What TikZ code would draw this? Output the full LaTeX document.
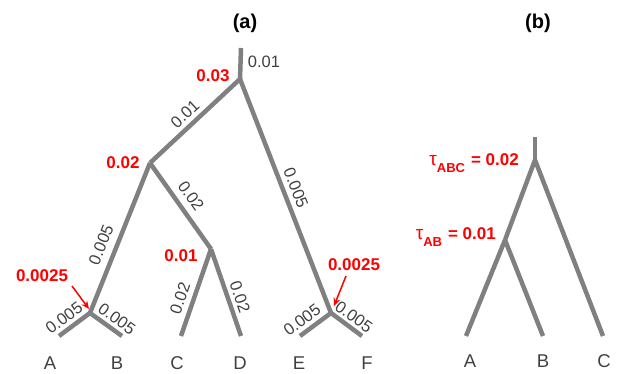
\documentclass[tikz,border=0pt]{standalone}
\usepackage{fontspec}
\setmainfont{Liberation Sans}
\usetikzlibrary{arrows.meta}
\definecolor{branch}{RGB}{128,128,128}
\definecolor{lblgray}{RGB}{64,64,64}
\definecolor{hot}{RGB}{255,0,0}
\newcommand{\mysub}[1]{\raisebox{-6.5pt}{\fontsize{13}{14}\selectfont\bfseries #1}}
\tikzset{
  br/.style={draw=branch, line width=4.5pt, line join=round},
  glbl/.style={inner sep=0pt, text=lblgray, font=\fontsize{16.5}{18}\selectfont},
  rlbl/.style={inner sep=0pt, text=hot, font=\fontsize{17}{19}\selectfont\bfseries},
  leaf/.style={inner sep=0pt, text=lblgray, font=\fontsize{18.5}{20}\selectfont},
  ttl/.style={inner sep=0pt, text=black, font=\fontsize{20}{22}\selectfont\bfseries},
  redarrow/.style={draw=hot, line width=1.5pt, -{Stealth[length=8pt,width=7pt]}}
}
\begin{document}
\begin{tikzpicture}[x=1pt,y=-1pt]
\useasboundingbox (0,0) rectangle (622,374);
% ---- panel (a) ----
\node[ttl] (ta) at (245,23) {(a)};
\coordinate (top) at (241,48);
\coordinate (R) at (240,79);
\coordinate (N2) at (150,163);
\coordinate (CD) at (211,249);
\coordinate (AB) at (90,313);
\coordinate (EF) at (331,313);
\coordinate (A) at (59,336);
\coordinate (B) at (122,336);
\coordinate (C) at (181,336);
\coordinate (D) at (241,336);
\coordinate (E) at (300,336);
\coordinate (F) at (362,336);
\draw[br] (top) -- (R);
\draw[br] (R) -- (N2);
\draw[br] (R) -- (EF);
\draw[br] (N2) -- (AB);
\draw[br] (N2) -- (CD);
\draw[br] (CD) -- (C);
\draw[br] (CD) -- (D);
\draw[br] (AB) -- (A);
\draw[br] (AB) -- (B);
\draw[br] (EF) -- (E);
\draw[br] (EF) -- (F);
% leaf names
\node[leaf] (lA) at (50,363) {A};
\node[leaf] (lB) at (117,363) {B};
\node[leaf] (lC) at (177,363) {C};
\node[leaf] (lD) at (240,363) {D};
\node[leaf] (lE) at (299,363) {E};
\node[leaf] (lF) at (367,363) {F};
% branch lengths
\node[glbl] (g1) at (264,62) {0.01};
\node[glbl, rotate=43] (g2) at (185,114) {0.01};
\node[glbl, rotate=-68.7] (g3) at (296,188) {0.005};
\node[glbl, rotate=-54.6] (g4) at (191,196) {0.02};
\node[glbl, rotate=68.2] (g5) at (101,245) {0.005};
\node[glbl, rotate=71] (g6) at (180,298) {0.02};
\node[glbl, rotate=-71] (g7) at (240,297) {0.02};
\node[glbl, rotate=36.6] (g8) at (64,318) {0.005};
\node[glbl, rotate=-35.7] (g9) at (117,319) {0.005};
\node[glbl, rotate=36.6] (g10) at (302,320) {0.005};
\node[glbl, rotate=-35.7] (g11) at (354,317) {0.005};
% node ages
\node[rlbl] (r1) at (213,76) {0.03};
\node[rlbl] (r2) at (123,163) {0.02};
\node[rlbl] (r3) at (181,256) {0.01};
\node[rlbl] (r4) at (42,276) {0.0025};
\node[rlbl] (r5) at (354,265) {0.0025};
\coordinate (a1s) at (72,286);
\coordinate (a1e) at (89,309);
\coordinate (a2s) at (346,276);
\coordinate (a2e) at (334,306);
\draw[redarrow] (a1s) -- (a1e);
\draw[redarrow] (a2s) -- (a2e);
% ---- panel (b) ----
\node[ttl] (tb) at (538,23) {(b)};
\coordinate (topb) at (535,137);
\coordinate (Rb) at (535,160);
\coordinate (ABb) at (505,240);
\coordinate (Ab) at (466,336);
\coordinate (Bb) at (543,336);
\coordinate (Cb) at (603,336);
\draw[br] (topb) -- (Rb);
\draw[br] (Rb) -- (ABb);
\draw[br] (ABb) -- (Ab);
\draw[br] (ABb) -- (Bb);
\draw[br] (Rb) -- (Cb);
\node[leaf] (lAb) at (470,361) {A};
\node[leaf] (lBb) at (543,361) {B};
\node[leaf] (lCb) at (604,361) {C};
\node[rlbl, anchor=base east] (tauabc) at (519,166) {{\mdseries\fontsize{19}{20}\selectfont τ}\mysub{ABC}\hspace{6pt}= 0.02};
\node[rlbl, anchor=base east] (tauab) at (496,240) {{\mdseries\fontsize{19}{20}\selectfont τ}\mysub{AB}\hspace{6pt}= 0.01};
\end{tikzpicture}
\end{document}
